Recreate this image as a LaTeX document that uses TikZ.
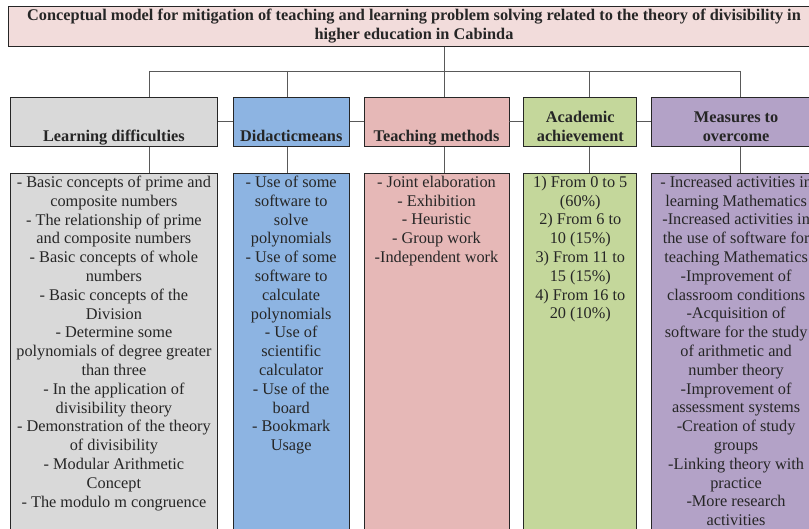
\documentclass[tikz,border=0pt]{standalone}
\usepackage{fontspec}
\setmainfont{Liberation Serif}
\usetikzlibrary{positioning}
\definecolor{ink}{HTML}{262626}
\definecolor{wiregray}{HTML}{595959}
\definecolor{titlebg}{HTML}{F2DCDB}
\definecolor{diffbg}{HTML}{D9D9D9}
\definecolor{meansbg}{HTML}{8DB4E2}
\definecolor{methbg}{HTML}{E6B8B7}
\definecolor{achbg}{HTML}{C4D79B}
\definecolor{measbg}{HTML}{B3A2C7}

\begin{document}
\begin{tikzpicture}[x=1pt,y=1pt,font=\fontsize{16.3}{18.8}\selectfont,text=ink,
  headbox/.style={draw=ink,line width=0.8pt,minimum height=49pt,inner sep=0pt},
  headtxt/.style={font=\fontsize{16.3}{18.8}\selectfont\bfseries,align=center,
                  inner sep=2pt,text depth=3.5pt},
  colbox/.style={draw=ink,line width=0.8pt,minimum height=370pt,inner sep=0pt},
  coltxt/.style={align=center,inner sep=3pt},
  wire/.style={draw=wiregray,line width=0.8pt}]
  \useasboundingbox (0,0) rectangle (809,-529);

  \node[draw=ink,line width=0.8pt,fill=titlebg,minimum width=812pt,minimum height=39pt,
        align=center,font=\fontsize{16.3}{19}\selectfont\bfseries] (title) at (414,-26.5)
        {Conceptual model for mitigation of teaching and learning problem solving related to the theory of divisibility in\\
         higher education in Cabinda};

  % heads of the five columns
  \node[headbox,fill=diffbg,minimum width=207pt,anchor=north west] (hd1) at (10,-97) {};
  \node[headbox,fill=meansbg,minimum width=116pt,right=15pt of hd1] (hd2) {};
  \node[headbox,fill=methbg,minimum width=145pt,right=14pt of hd2] (hd3) {};
  \node[headbox,fill=achbg,minimum width=113pt,right=14pt of hd3] (hd4) {};
  \node[headbox,fill=measbg,minimum width=169pt,right=14pt of hd4] (hd5) {};
  \node[headtxt,above=0pt of hd1.south] (ht1) {Learning difficulties};
  \node[headtxt,above=0pt of hd2.south] (ht2) {Didacticmeans};
  \node[headtxt,above=0pt of hd3.south] (ht3) {Teaching methods};
  \node[headtxt,above=0pt of hd4.south] (ht4) {Academic\\achievement};
  \node[headtxt,above=0pt of hd5.south] (ht5) {Measures to\\overcome};

  % column bodies
  \node[colbox,fill=diffbg,minimum width=207pt,below=26pt of hd1] (bx1) {};
  \node[colbox,fill=meansbg,minimum width=116pt,below=26pt of hd2] (bx2) {};
  \node[colbox,fill=methbg,minimum width=145pt,below=26pt of hd3] (bx3) {};
  \node[colbox,fill=achbg,minimum width=113pt,below=26pt of hd4] (bx4) {};
  \node[colbox,fill=measbg,minimum width=169pt,below=26pt of hd5] (bx5) {};

  \node[coltxt,below=0pt of bx1.north] (tx1) {- Basic concepts of prime and\\composite numbers\\
    - The relationship of prime\\and composite numbers\\- Basic concepts of whole\\numbers\\
    - Basic concepts of the\\Division\\- Determine some\\polynomials of degree greater\\than three\\
    - In the application of\\divisibility theory\\- Demonstration of the theory\\of divisibility\\
    - Modular Arithmetic\\Concept\\- The modulo m congruence};
  \node[coltxt,below=0pt of bx2.north] (tx2) {- Use of some\\software to\\solve\\polynomials\\
    - Use of some\\software to\\calculate\\polynomials\\- Use of\\scientific\\calculator\\
    - Use of the\\board\\- Bookmark\\Usage};
  \node[coltxt,below=0pt of bx3.north] (tx3) {- Joint elaboration\\- Exhibition\\- Heuristic\\
    - Group work\\-Independent work};
  \node[coltxt,below=0pt of bx4.north] (tx4) {1) From 0 to 5\\(60\%)\\2) From 6 to\\10 (15\%)\\
    3) From 11 to\\15 (15\%)\\4) From 16 to\\20 (10\%)};
  \node[coltxt,below=0pt of bx5.north] (tx5) {- Increased activities in\\learning Mathematics\\
    -Increased activities in\\the use of software for\\teaching Mathematics\\-Improvement of\\
    classroom conditions\\-Acquisition of\\software for the study\\of arithmetic and\\number theory\\
    -Improvement of\\assessment systems\\-Creation of study\\groups\\-Linking theory with\\
    practice\\-More research\\activities};

  % tree wiring
  \coordinate (j1) at (149,-71);
  \coordinate (j2) at (287,-71);
  \coordinate (j3) at (444,-71);
  \coordinate (j4) at (589,-71);
  \coordinate (j5) at (740,-71);
  \draw[wire] (title.south -| j3) -- (j3);
  \draw[wire] (j1) -- (j5);
  \foreach \i in {1,...,5} {
    \draw[wire] (j\i) -- (j\i |- hd\i.north);
    \draw[wire] (j\i |- hd\i.south) -- (j\i |- bx\i.north);
  }
  \foreach \a/\b in {1/2,2/3,3/4,4/5}
    \draw[wire] (hd\a.east) -- (hd\b.west);
\end{tikzpicture}
\end{document}
